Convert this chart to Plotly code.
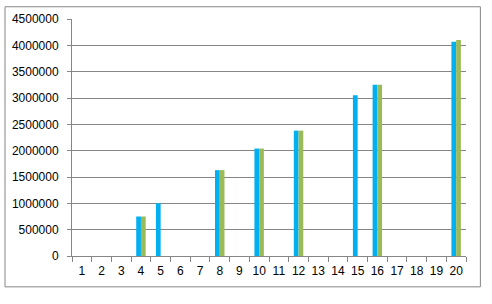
import plotly.graph_objects as go

categories = [str(i) for i in range(1, 21)]
series_a = [None, None, None, 750000, 1000000, None, None, 1630000, None, 2040000,
            None, 2380000, None, None, 3050000, 3250000, None, None, None, 4070000]
series_b = [None, None, None, 750000, None, None, None, 1630000, None, 2040000,
            None, 2380000, None, None, None, 3250000, None, None, None, 4100000]
y_ticks = [0, 500000, 1000000, 1500000, 2000000, 2500000, 3000000, 3500000, 4000000, 4500000]

fig = go.Figure()
fig.add_trace(go.Bar(x=categories, y=series_a, marker=dict(color="#00B0F0", line=dict(width=0)), name="A"))
fig.add_trace(go.Bar(x=categories, y=series_b, marker=dict(color="#9BBB59", line=dict(width=0)), name="B"))

W, H = 492, 304
L, R, T, B = 69, 26, 14, 48
fig.update_layout(
    width=W, height=H,
    margin=dict(l=L, r=R, t=T, b=B),
    paper_bgcolor="white", plot_bgcolor="white",
    barmode="group", bargap=0.52, bargroupgap=0,
    showlegend=False,
    font=dict(family="Liberation Sans, Arial, sans-serif", size=12, color="black"),
)
fig.update_xaxes(type="category", showline=True, linecolor="#868686", linewidth=1,
                 ticks="outside", tickson="boundaries", ticklen=5, tickcolor="#868686",
                 showgrid=False, mirror=False, tickangle=0, ticklabelstandoff=4)
fig.update_yaxes(range=[0, 4500000], tickvals=y_ticks, ticktext=[str(v) for v in y_ticks],
                 showline=True, linecolor="#868686", linewidth=1,
                 ticks="outside", ticklen=4, tickcolor="#868686",
                 showgrid=True, gridcolor="#868686", gridwidth=1, zeroline=False,
                 ticklabelstandoff=6)

pw = W - L - R
ph = H - T - B
fig.add_shape(type="rect", xref="paper", yref="paper",
              x0=(1.5 - L) / pw, x1=(480.5 - L) / pw,
              y0=(H - B - 287.5) / ph, y1=(H - B - 1.5) / ph,
              line=dict(color="#868686", width=1), fillcolor="rgba(0,0,0,0)", layer="below")

fig.write_html("out.html")
